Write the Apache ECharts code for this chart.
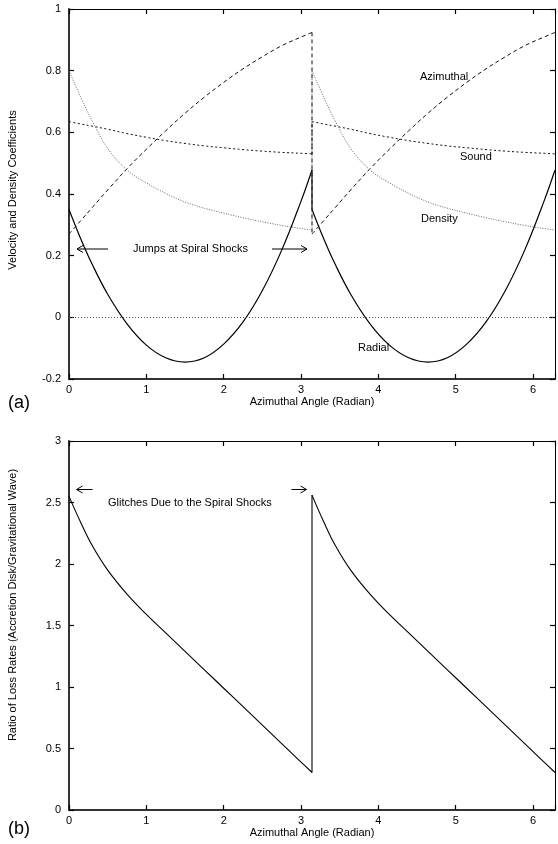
<!DOCTYPE html>
<html><head><meta charset="utf-8">
<script src="https://cdn.jsdelivr.net/npm/echarts@6/dist/echarts.min.js"></script>
<style>html,body{margin:0;padding:0;background:#fff}#c{width:558px;height:844px}</style>
</head><body><div id="c"></div>
<script>
// ---- data ----
const angle1 = [0, 0.15, 0.3, 0.5, 0.75, 1.0, 1.25, 1.5, 1.75, 2.0, 2.25, 2.5, 2.75, 3.0, 3.1416];
const angle2 = [3.1416, 3.2916, 3.4416, 3.6416, 3.8916, 4.1416, 4.3916, 4.6416, 4.8916, 5.1416, 5.3916, 5.6416, 5.8916, 6.1416, 6.2832];

const radial1 = [0.35, 0.256, 0.172, 0.075, -0.021, -0.09, -0.131, -0.145, -0.131, -0.087, -0.015, 0.087, 0.218, 0.377, 0.478];
const radial2 = [0.35, 0.256, 0.172, 0.075, -0.021, -0.09, -0.131, -0.145, -0.131, -0.087, -0.015, 0.087, 0.218, 0.377, 0.478];

const azimuthal1 = [0.27, 0.313, 0.356, 0.413, 0.482, 0.545, 0.605, 0.662, 0.714, 0.762, 0.806, 0.845, 0.881, 0.909, 0.924];
const azimuthal2 = [0.27, 0.313, 0.356, 0.413, 0.482, 0.545, 0.605, 0.662, 0.714, 0.762, 0.806, 0.845, 0.881, 0.909, 0.924];

const density1 = [0.80, 0.715, 0.637, 0.548, 0.478, 0.436, 0.402, 0.374, 0.354, 0.338, 0.323, 0.31, 0.298, 0.288, 0.283];
const density2 = [0.80, 0.715, 0.637, 0.548, 0.478, 0.436, 0.402, 0.374, 0.354, 0.338, 0.323, 0.31, 0.298, 0.288, 0.283];

const sound1 = [0.635, 0.627, 0.62, 0.61, 0.596, 0.584, 0.573, 0.564, 0.556, 0.55, 0.544, 0.539, 0.535, 0.532, 0.53];
const sound2 = [0.635, 0.627, 0.62, 0.61, 0.596, 0.584, 0.573, 0.564, 0.556, 0.55, 0.544, 0.539, 0.535, 0.532, 0.53];

const ratio1 = [2.55, 2.34, 2.15, 1.95, 1.755, 1.59, 1.44, 1.29, 1.14, 0.99, 0.84, 0.69, 0.54, 0.39, 0.305];
const ratio2 = [2.56, 2.345, 2.152, 1.95, 1.755, 1.59, 1.44, 1.29, 1.14, 0.99, 0.84, 0.69, 0.54, 0.39, 0.305];

const xMin = 0, xMax = 6.2832;
const yTopMin = -0.2, yTopMax = 1, yTopStep = 0.2;
const yBotMin = 0, yBotMax = 3, yBotStep = 0.5;

const curveLabels = ['Azimuthal', 'Sound', 'Density', 'Radial'];
const noteTop = 'Jumps at Spiral Shocks';
const noteBottom = 'Glitches Due to the Spiral Shocks';
const xName = 'Azimuthal Angle (Radian)';
const yNameTop = 'Velocity and Density Coefficients';
const yNameBottom = 'Ratio of Loss Rates (Accretion Disk/Gravitational Wave)';

// ---- build ----
const FONT = '"Liberation Sans", Arial, sans-serif';
function pts(xs, ys) { return xs.map((x, i) => [x, ys[i]]); }
function jumpPts(xs1, ys1, ys2) {
  const xe = xs1[xs1.length - 1];
  return [[xe, ys1[ys1.length - 1]], [xe, ys2[0]]];
}
function curve(name, grid, ys1, ys2, lineStyle, extra) {
  const base = { type: 'line', xAxisIndex: grid * 2, yAxisIndex: grid * 2, showSymbol: false, symbol: 'none',
    lineStyle: lineStyle, animation: false, silent: true, z: 3 };
  return [
    Object.assign({}, base, { name: name, smooth: 0.4, data: pts(angle1, ys1) }, extra || {}),
    Object.assign({}, base, { name: name, smooth: false, data: jumpPts(angle1, ys1, ys2) }),
    Object.assign({}, base, { name: name, smooth: 0.4, data: pts(angle2, ys2) })
  ];
}

const solid = { color: '#000', width: 1.2, type: 'solid' };
const dashA = { color: '#111', width: 1, type: [4, 3] };
const dashS = { color: '#111', width: 1, type: [2, 2.5] };
const dotD = { color: '#666', width: 1, type: [1, 1.5] };

const series = [].concat(
  curve('Radial', 0, radial1, radial2, solid, {
    markLine: { silent: true, symbol: 'none', label: { show: false },
      lineStyle: { type: [1, 2], color: '#555', width: 1 }, data: [{ yAxis: 0 }] }
  }),
  curve('Azimuthal', 0, azimuthal1, azimuthal2, dashA),
  curve('Sound', 0, sound1, sound2, dashS),
  curve('Density', 0, density1, density2, dotD),
  curve('Ratio', 1, ratio1, ratio2, { color: '#000', width: 1.1, type: 'solid' })
);

function xAxes(grid) {
  return [
    { gridIndex: grid, type: 'value', min: xMin, max: xMax, interval: 1, position: 'bottom',
      axisLine: { onZero: false, lineStyle: { color: '#333', width: 2 } },
      axisTick: { inside: true, length: 5, lineStyle: { color: '#000', width: 1.2 } },
      axisLabel: { margin: 5, color: '#000', fontSize: 11, fontFamily: FONT,
        formatter: v => (Math.abs(v - Math.round(v)) < 1e-6 ? String(Math.round(v)) : '') },
      splitLine: { show: false },
      name: xName, nameLocation: 'middle', nameGap: 17,
      nameTextStyle: { color: '#000', fontSize: 11, fontFamily: FONT } },
    { gridIndex: grid, type: 'value', min: xMin, max: xMax, interval: 1, position: 'top',
      axisLine: { onZero: false, lineStyle: { color: '#000', width: 1 } },
      axisTick: { inside: true, length: 5, lineStyle: { color: '#000', width: 1.2 } },
      axisLabel: { show: false }, splitLine: { show: false } }
  ];
}
function yAxes(grid, mn, mx, step) {
  return [
    { gridIndex: grid, type: 'value', min: mn, max: mx, interval: step, position: 'left',
      axisLine: { onZero: false, show: true, lineStyle: { color: '#333', width: 2 } },
      axisTick: { show: true, inside: true, length: 5, lineStyle: { color: '#000', width: 1.2 } },
      axisLabel: { margin: 8, color: '#000', fontSize: 11, fontFamily: FONT },
      splitLine: { show: false } },
    { gridIndex: grid, type: 'value', min: mn, max: mx, interval: step, position: 'right',
      axisLine: { onZero: false, show: true, lineStyle: { color: '#000', width: 1 } },
      axisTick: { show: true, inside: true, length: 5, lineStyle: { color: '#000', width: 1.2 } },
      axisLabel: { show: false }, splitLine: { show: false } }
  ];
}

function txt(text, x, y, size, extra) {
  return { type: 'text', x: x, y: y, silent: true, z: 10, rotation: (extra && extra.rotation) || 0,
    style: Object.assign({ text: text, fill: '#000', font: (size || 11) + 'px ' + FONT,
      verticalAlign: 'middle', align: 'left' }, (extra && extra.style) || {}) };
}
function arrow(x1, x2, y, left) {
  const tip = left ? x1 : x2, d = left ? 6 : -6;
  return { type: 'group', silent: true, z: 10, children: [
    { type: 'polyline', shape: { points: [[x1, y], [x2, y]] }, style: { stroke: '#000', lineWidth: 1, fill: null } },
    { type: 'polyline', shape: { points: [[tip + d, y - 3.5], [tip, y], [tip + d, y + 3.5]] }, style: { stroke: '#000', lineWidth: 1, fill: null } }
  ] };
}

const chart = echarts.init(document.getElementById('c'), null, { renderer: 'canvas' });
chart.setOption({
  animation: false,
  backgroundColor: '#fff',
  grid: [
    { left: 69, right: 0, top: 9, height: 370 },
    { left: 69, right: 0, top: 441, height: 369 }
  ],
  xAxis: [].concat(xAxes(0), xAxes(1)),
  yAxis: [].concat(yAxes(0, yTopMin, yTopMax, yTopStep), yAxes(1, yBotMin, yBotMax, yBotStep)),
  series: series,
  graphic: [
    txt('(a)', 8, 403, 18),
    txt('(b)', 8, 829, 18),
    txt(yNameTop, 12.5, 190, 11, { rotation: Math.PI / 2, style: { align: 'center' } }),
    txt(yNameBottom, 12.5, 605, 11, { rotation: Math.PI / 2, style: { align: 'center' } }),
    txt(curveLabels[0], 420, 77, 11),
    txt(curveLabels[1], 460, 157, 11),
    txt(curveLabels[2], 421, 219, 11),
    txt(curveLabels[3], 358, 348, 11),
    txt(noteTop, 133, 249, 11),
    txt(noteBottom, 108, 502.5, 11),
    arrow(77, 108, 249, true),
    arrow(272, 307, 249, false),
    arrow(76.5, 92.5, 489.5, true),
    arrow(291.5, 306.5, 489.5, false)
  ]
});
</script>
</body></html>
